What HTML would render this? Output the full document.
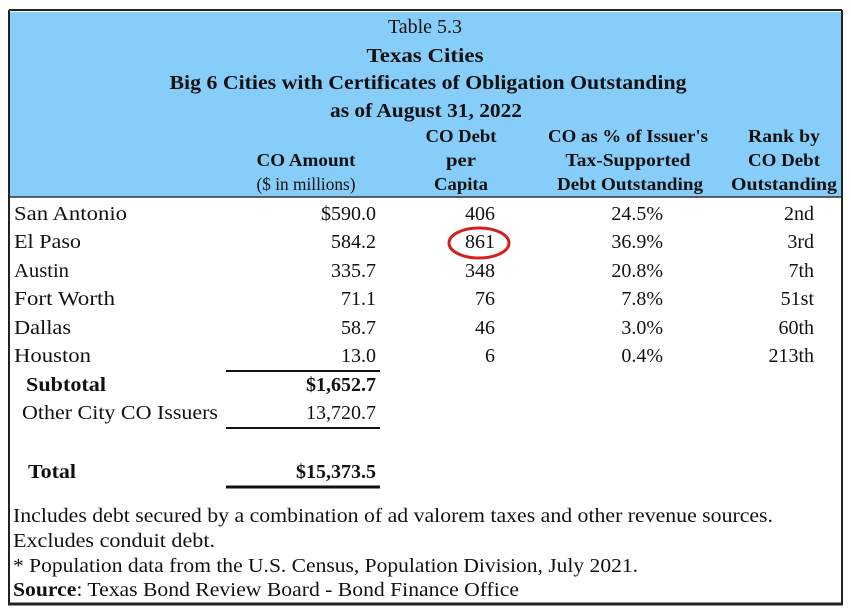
<!DOCTYPE html>
<html><head><meta charset="utf-8"><style>
html,body{margin:0;padding:0;background:#fff;}
svg{display:block;}
text,tspan{font-family:"Liberation Serif","DejaVu Serif",serif !important;fill:#111;}
.b{font-weight:bold;}
</style></head><body>
<svg width="850" height="615" viewBox="0 0 850 615" xmlns="http://www.w3.org/2000/svg" font-family="Liberation Serif, serif">
<rect x="0" y="0" width="850" height="615" fill="#fff"/>
<rect x="10" y="12" width="831" height="185" fill="#87cdf9"/>
<line x1="9" y1="10" x2="842" y2="10" stroke="#222" stroke-width="2"/>
<line x1="9" y1="10" x2="9" y2="605" stroke="#222" stroke-width="2"/>
<line x1="842" y1="10" x2="842" y2="605" stroke="#222" stroke-width="2"/>
<line x1="8" y1="604" x2="843" y2="604" stroke="#222" stroke-width="3"/>
<line x1="10" y1="197" x2="841" y2="197" stroke="#333" stroke-width="1.5"/>
<g font-size="20">
<text x="425" y="33" text-anchor="middle" textLength="74" lengthAdjust="spacingAndGlyphs">Table 5.3</text>
<text class="b" x="425" y="62" text-anchor="middle" textLength="117" lengthAdjust="spacingAndGlyphs">Texas Cities</text>
<text class="b" x="428" y="89" text-anchor="middle" textLength="517" lengthAdjust="spacingAndGlyphs">Big 6 Cities with Certificates of Obligation Outstanding</text>
<text class="b" x="426" y="117" text-anchor="middle" textLength="192" lengthAdjust="spacingAndGlyphs">as of August 31, 2022</text>
</g>
<g font-size="18">
<text class="b" x="461" y="142" text-anchor="middle" textLength="71" lengthAdjust="spacingAndGlyphs">CO Debt</text>
<text class="b" x="628" y="142" text-anchor="middle" textLength="160" lengthAdjust="spacingAndGlyphs">CO as % of Issuer's</text>
<text class="b" x="784" y="142" text-anchor="middle" textLength="72" lengthAdjust="spacingAndGlyphs">Rank by</text>
<text class="b" x="306" y="166" text-anchor="middle" textLength="99" lengthAdjust="spacingAndGlyphs">CO Amount</text>
<text class="b" x="461" y="166" text-anchor="middle" textLength="30" lengthAdjust="spacingAndGlyphs">per</text>
<text class="b" x="628" y="166" text-anchor="middle" textLength="125" lengthAdjust="spacingAndGlyphs">Tax-Supported</text>
<text class="b" x="784" y="166" text-anchor="middle" textLength="72" lengthAdjust="spacingAndGlyphs">CO Debt</text>
<text x="306" y="190" text-anchor="middle" textLength="99" lengthAdjust="spacingAndGlyphs">($ in millions)</text>
<text class="b" x="461" y="190" text-anchor="middle" textLength="54" lengthAdjust="spacingAndGlyphs">Capita</text>
<text class="b" x="630" y="190" text-anchor="middle" textLength="146" lengthAdjust="spacingAndGlyphs">Debt Outstanding</text>
<text class="b" x="784" y="190" text-anchor="middle" textLength="106" lengthAdjust="spacingAndGlyphs">Outstanding</text>
</g>
<g font-size="20">
<text x="14" y="220" textLength="113" lengthAdjust="spacingAndGlyphs">San Antonio</text>
<text x="14" y="248" textLength="67" lengthAdjust="spacingAndGlyphs">El Paso</text>
<text x="14" y="277" textLength="55" lengthAdjust="spacingAndGlyphs">Austin</text>
<text x="14" y="305" textLength="101" lengthAdjust="spacingAndGlyphs">Fort Worth</text>
<text x="14" y="334" textLength="57" lengthAdjust="spacingAndGlyphs">Dallas</text>
<text x="14" y="362" textLength="77" lengthAdjust="spacingAndGlyphs">Houston</text>
<g text-anchor="end">
<text x="376" y="220">$590.0</text>
<text x="376" y="248">584.2</text>
<text x="376" y="277">335.7</text>
<text x="376" y="305">71.1</text>
<text x="376" y="334">58.7</text>
<text x="376" y="362">13.0</text>
<text x="495" y="220">406</text>
<text x="495" y="248">861</text>
<text x="495" y="277">348</text>
<text x="495" y="305">76</text>
<text x="495" y="334">46</text>
<text x="495" y="362">6</text>
<text x="663" y="220">24.5%</text>
<text x="663" y="248">36.9%</text>
<text x="663" y="277">20.8%</text>
<text x="663" y="305">7.8%</text>
<text x="663" y="334">3.0%</text>
<text x="663" y="362">0.4%</text>
<text x="814" y="220">2nd</text>
<text x="814" y="248">3rd</text>
<text x="814" y="277">7th</text>
<text x="814" y="305">51st</text>
<text x="814" y="334">60th</text>
<text x="814" y="362">213th</text>
<text class="b" x="376" y="391">$1,652.7</text>
<text x="376" y="419">13,720.7</text>
<text class="b" x="376" y="478">$15,373.5</text>
</g>
<text class="b" x="26" y="391" textLength="80" lengthAdjust="spacingAndGlyphs">Subtotal</text>
<text x="22" y="419" textLength="196" lengthAdjust="spacingAndGlyphs">Other City CO Issuers</text>
<text class="b" x="28" y="478" textLength="48" lengthAdjust="spacingAndGlyphs">Total</text>
<text x="13" y="522" textLength="760" lengthAdjust="spacingAndGlyphs">Includes debt secured by a combination of ad valorem taxes and other revenue sources.</text>
<text x="13" y="547" textLength="202" lengthAdjust="spacingAndGlyphs">Excludes conduit debt.</text>
<text x="13" y="572" textLength="625" lengthAdjust="spacingAndGlyphs">* Population data from the U.S. Census, Population Division, July 2021.</text>
<text x="13" y="596" textLength="506" lengthAdjust="spacingAndGlyphs"><tspan class="b">Source</tspan>: Texas Bond Review Board - Bond Finance Office</text>
</g>
<ellipse cx="479" cy="243" rx="30" ry="15" fill="none" stroke="#d42020" stroke-width="3"/>
<line x1="226" y1="371" x2="380" y2="371" stroke="#111" stroke-width="2"/>
<line x1="226" y1="428" x2="380" y2="428" stroke="#111" stroke-width="2"/>
<line x1="226" y1="487" x2="380" y2="487" stroke="#111" stroke-width="3"/>
</svg>
</body></html>
